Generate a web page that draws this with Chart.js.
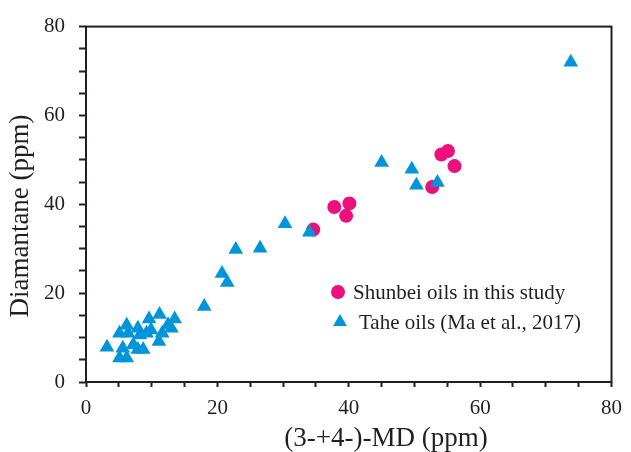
<!DOCTYPE html>
<html><head><meta charset="utf-8">
<script src="https://cdn.jsdelivr.net/npm/chart.js@4"></script>
<style>html,body{margin:0;padding:0;background:#fff}#wrap{width:631px;height:452px}</style>
</head><body><div id="wrap"><canvas id="c" width="631" height="452"></canvas></div>
<script>
// ---- data ----
const seriesNames = ['Shunbei oils in this study', 'Tahe oils (Ma et al., 2017)'];
const shunbeiX = [34.6, 37.8, 40.1, 39.6, 52.7, 54.1, 55.1, 56.1];
const shunbeiY = [34.3, 39.4, 40.2, 37.4, 43.9, 51.2, 52.0, 48.6];
const taheX = [73.8, 45.0, 49.6, 50.3, 53.5, 30.3, 34.0, 22.8, 26.5, 20.7, 21.5, 18.0,
  3.2, 6.2, 9.6, 11.2, 13.5, 13.0, 11.1, 8.7, 5.1, 6.2, 5.6, 7.2, 7.9, 5.1, 6.4, 8.2, 9.2, 9.9, 11.6, 7.9, 12.5];
const taheY = [72.0, 49.4, 47.9, 44.3, 44.9, 35.6, 33.7, 29.8, 30.1, 24.4, 22.4, 17.0,
  7.8, 12.8, 14.2, 15.2, 14.2, 12.1, 9.1, 7.3, 5.4, 5.4, 7.6, 8.4, 7.3, 11.0, 11.0, 10.6, 11.0, 11.7, 11.0, 12.1, 12.9];
const xTickLabels = [0, 20, 40, 60, 80];
const yTickLabels = [0, 20, 40, 60, 80];
const xTitle = '(3-+4-)-MD (ppm)';
const yTitle = 'Diamantane (ppm)';

const SERIF = '"Liberation Serif", "Times New Roman", serif';
const INK = '#231f20';
const MAGENTA = '#EC0F7C';
const BLUE = '#0095DA';

const toPts = (xs, ys) => xs.map((x, i) => ({x: x, y: ys[i]}));

const framePlugin = {
  id: 'frame',
  beforeDatasetsDraw(chart) {
    const {ctx, chartArea: a} = chart;
    ctx.save();
    ctx.strokeStyle = INK;
    ctx.lineWidth = 2;
    ctx.strokeRect(a.left, a.top, a.right - a.left, a.bottom - a.top);
    ctx.restore();
  },
  afterDraw(chart) {
    const {ctx} = chart;
    ctx.save();
    ctx.fillStyle = INK;
    ctx.font = '27px ' + SERIF;
    ctx.textAlign = 'center';
    ctx.textBaseline = 'middle';
    ctx.fillText(xTitle, 386, 439);
    ctx.translate(21, 216);
    ctx.rotate(-Math.PI / 2);
    ctx.fillText(yTitle, 0, 0);
    ctx.restore();
    // legend
    ctx.save();
    ctx.font = '21px ' + SERIF;
    ctx.textAlign = 'left';
    ctx.textBaseline = 'middle';
    const ds = chart.data.datasets;
    const items = [
      {d: ds[0], mx: 338, my: 292, tx: 353, r: 7},
      {d: ds[1], mx: 340, my: 322, tx: 359, r: 8}
    ];
    items.forEach(it => {
      ctx.fillStyle = it.d.backgroundColor;
      ctx.beginPath();
      if (it.d.pointStyle === 'triangle') {
        let rad = 0;
        for (let k = 0; k < 3; k++) {
          const px = it.mx + Math.sin(rad) * it.r, py = it.my - Math.cos(rad) * it.r;
          if (k === 0) ctx.moveTo(px, py); else ctx.lineTo(px, py);
          rad += 2 * Math.PI / 3;
        }
        ctx.closePath();
      } else {
        ctx.arc(it.mx, it.my, it.r, 0, Math.PI * 2);
      }
      ctx.fill();
      ctx.fillStyle = INK;
      ctx.fillText(it.d.label, it.tx, it.my + 1);
    });
    ctx.restore();
  }
};

new Chart(document.getElementById('c'), {
  type: 'scatter',
  data: {
    datasets: [
      {label: seriesNames[0], data: toPts(shunbeiX, shunbeiY), pointStyle: 'circle', pointRadius: 7,
       backgroundColor: MAGENTA, borderWidth: 0, pointHoverRadius: 7, order: 2},
      {label: seriesNames[1], data: toPts(taheX, taheY), pointStyle: 'triangle', pointRadius: 8.5,
       backgroundColor: BLUE, borderWidth: 0, pointHoverRadius: 8.5, order: 1}
    ]
  },
  options: {
    responsive: false,
    devicePixelRatio: 1,
    animation: false,
    events: [],
    layout: {padding: {top: 21, right: 18, left: 0, bottom: 0}},
    plugins: {legend: {display: false}, tooltip: {enabled: false}},
    scales: {
      x: {
        type: 'linear', min: 0, max: 80,
        border: {display: false},
        grid: {drawOnChartArea: false, drawTicks: true, tickLength: 5, tickWidth: 2, tickColor: INK},
        ticks: {stepSize: 5, autoSkip: false, maxRotation: 0, padding: 9, color: INK,
          font: {family: SERIF, size: 21},
          callback: v => xTickLabels.includes(v) ? String(v) : ''},
        afterFit: s => { s.height = 70; }
      },
      y: {
        type: 'linear', min: 0, max: 80,
        border: {display: false},
        grid: {drawOnChartArea: false, drawTicks: true, tickLength: 7, tickWidth: 2, tickColor: INK},
        ticks: {stepSize: 5, autoSkip: false, padding: 14, color: INK,
          font: {family: SERIF, size: 21},
          callback: v => yTickLabels.includes(v) ? String(v) : ''},
        afterFit: s => { s.width = 86; }
      }
    }
  },
  plugins: [framePlugin]
});
</script></body></html>
